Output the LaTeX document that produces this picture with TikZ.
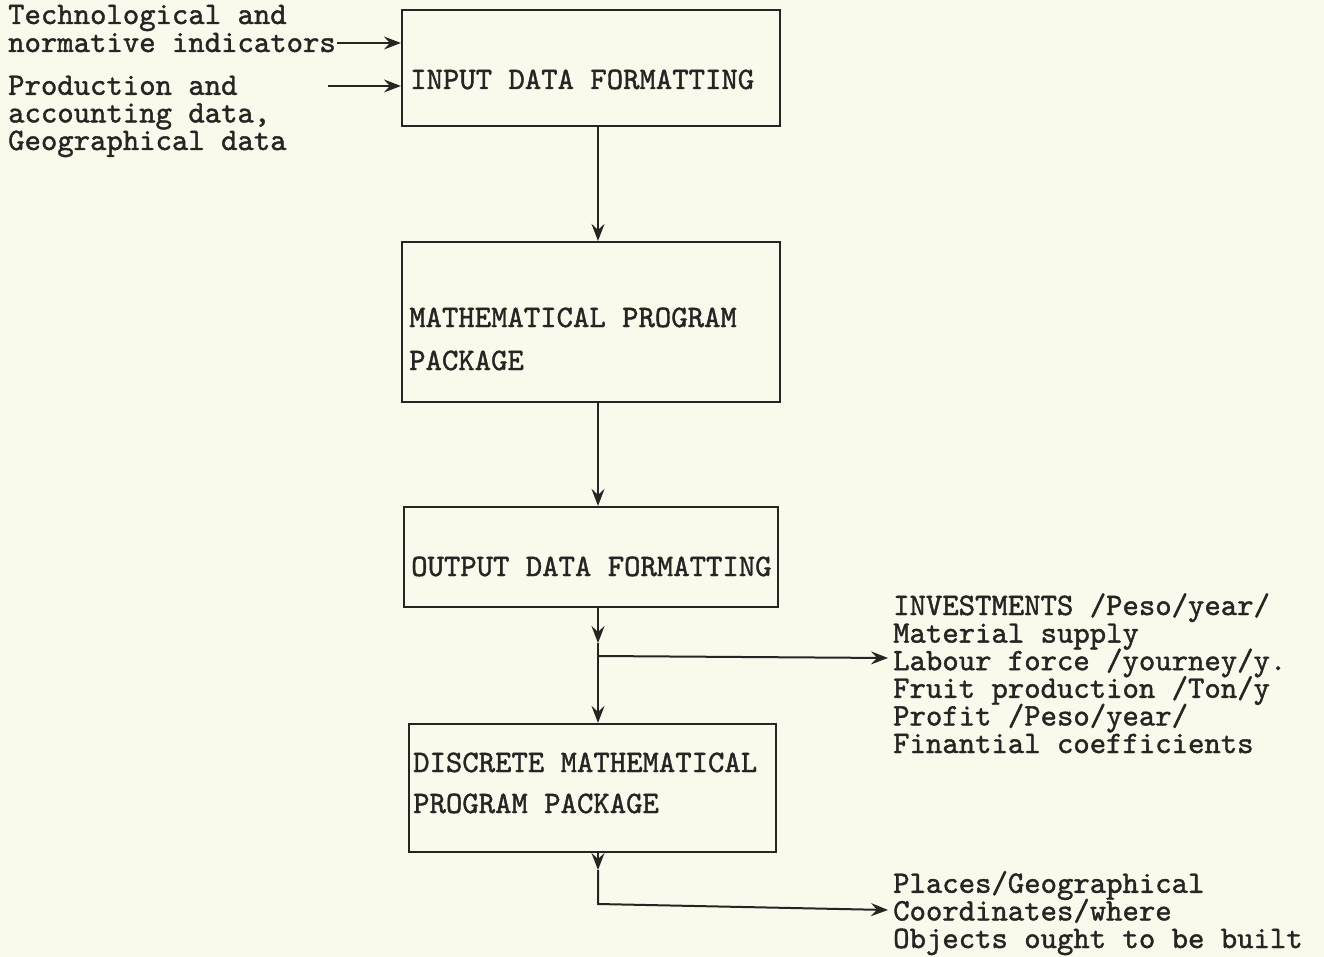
\documentclass[tikz,border=0pt]{standalone}
\usepackage{fontspec}
\setmonofont{lmmono10-regular.otf}[FakeBold=1.3]
\usetikzlibrary{arrows.meta}
\definecolor{paper}{HTML}{FBF8EC}
\definecolor{ink}{HTML}{262523}
\newcommand{\tw}[1]{\ttfamily\fontsize{31.2}{#1}\selectfont\lineskiplimit=-60pt\lineskip=0pt}
\begin{document}
\begin{tikzpicture}[x=1pt,y=-1pt,
  box/.style={draw=ink,line width=2.2pt,minimum width=#1,inner sep=0pt},
  txt/.style={font=\tw{27.6},text=ink,inner sep=0pt,align=left,anchor=base west},
  conn/.style={draw=ink,line width=2pt},
  arr/.style={conn,-{Stealth[length=17pt,width=13pt,inset=6pt]}}]
\fill[paper] (0,0) rectangle (1324,957);
\useasboundingbox (0,0) rectangle (1324,957);
\coordinate (c) at (598,0);
% boxes
\node[box=378pt,minimum height=116pt] (box1) at (591,68) {};
\node[box=378pt,minimum height=160pt] (box2) at (591,322) {};
\node[box=374pt,minimum height=100pt] (box3) at (591,557) {};
\node[box=367pt,minimum height=128pt] (box4) at (592.5,788) {};
% box texts (anchor base = baseline of the last line)
\node[txt] (t1) at (410,89) {INPUT DATA FORMATTING};
\node[txt,font=\tw{43}] (t2) at (409,370) {MATHEMATICAL PROGRAM\\PACKAGE};
\node[txt] (t3) at (411,576) {OUTPUT DATA FORMATTING};
\node[txt,font=\tw{41}] (t4) at (413,813) {DISCRETE MATHEMATICAL\\PROGRAM PACKAGE};
% side texts
\node[txt,font=\tw{28}] (in1) at (8,52) {Technological  and\\normative indicators};
\node[txt] (in2) at (8,150) {Production and\\accounting data,\\Geographical data};
\node[txt] (out1) at (893,753) {INVESTMENTS /Peso/year/\\Material supply\\Labour force /yourney/y.\\Fruit production /Ton/y\\Profit /Peso/year/\\Finantial coefficients};
\node[txt] (out2) at (893,948) {Places/Geographical\\Coordinates/where\\Objects ought to be built};
% input arrows
\coordinate (s1) at (337,43);
\coordinate (s2) at (328,86);
\draw[arr] (s1) -- (s1 -| box1.west);
\draw[arr] (s2) -- (s2 -| box1.west);
% vertical flow
\draw[arr] (box1.south -| c) -- (box2.north -| c);
\draw[arr] (box2.south -| c) -- (box3.north -| c);
\coordinate (m1) at (598,643);
\coordinate (b1) at (598,656);
\coordinate (e1) at (888,658);
\draw[arr] (box3.south -| c) -- (m1);
\draw[arr] (m1) -- (box4.north -| c);
\draw[arr] (b1) -- (e1);
\coordinate (m2) at (598,870);
\coordinate (b2) at (598,904);
\coordinate (e2) at (888,910);
\draw[arr] (box4.south -| c) -- (m2);
\draw[arr] (m2) -- (b2) -- (e2);
\end{tikzpicture}
\end{document}
